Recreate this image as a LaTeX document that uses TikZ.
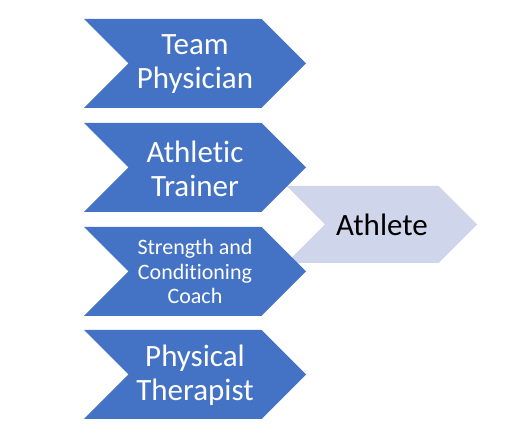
\documentclass[tikz,border=0pt]{standalone}
\usepackage{fontspec}
\setmainfont{Carlito}[Ligatures=NoCommon]
\usepackage{tikz}
\usetikzlibrary{calc}
\definecolor{officeblue}{HTML}{4472C4}
\definecolor{athletegrey}{HTML}{CFD5EA}
% chevron: style, left x, middle y, length, half height
\newcommand{\chev}[5]{\fill[#1] (#2,#3+#5) -- (#2+#4-#5,#3+#5) -- (#2+#4,#3) -- (#2+#4-#5,#3-#5) -- (#2,#3-#5) -- (#2+#5,#3) -- cycle;}

\begin{document}
\begin{tikzpicture}[x=1pt, y=1pt, role/.style={fill=officeblue}, player/.style={fill=athletegrey},
                    biglbl/.style={text=white, align=center, font=\fontsize{31}{34}\selectfont},
                    smalllbl/.style={text=white, align=center, font=\fontsize{22}{24.5}\selectfont}]
                      \useasboundingbox (0,0) rectangle (517,436);
                      \chev{player}{286.5}{211.5}{190.5}{38.5}
                      \node[font=\fontsize{31}{34}\selectfont] (athlete) at (382,211.5) {Athlete};

                      \chev{role}{84}{372.5}{222}{44.5}
                      \chev{role}{84}{268.5}{222}{44.5}
                      \chev{role}{84}{164.5}{222}{44.5}
                      \chev{role}{84}{61.5}{222}{44.5}
                      \node[biglbl] (physician) at (195,371.5) {Team\\Physician};
                      \node[biglbl] (trainer) at (195,267.5) {Athletic\\Trainer};
                      \node[smalllbl] (coach) at (195,164.5) {Strength and\\Conditioning\\Coach};
                      \node[biglbl] (therapist) at (195,60.5) {Physical\\Therapist};

                    \end{tikzpicture}
\end{document}
